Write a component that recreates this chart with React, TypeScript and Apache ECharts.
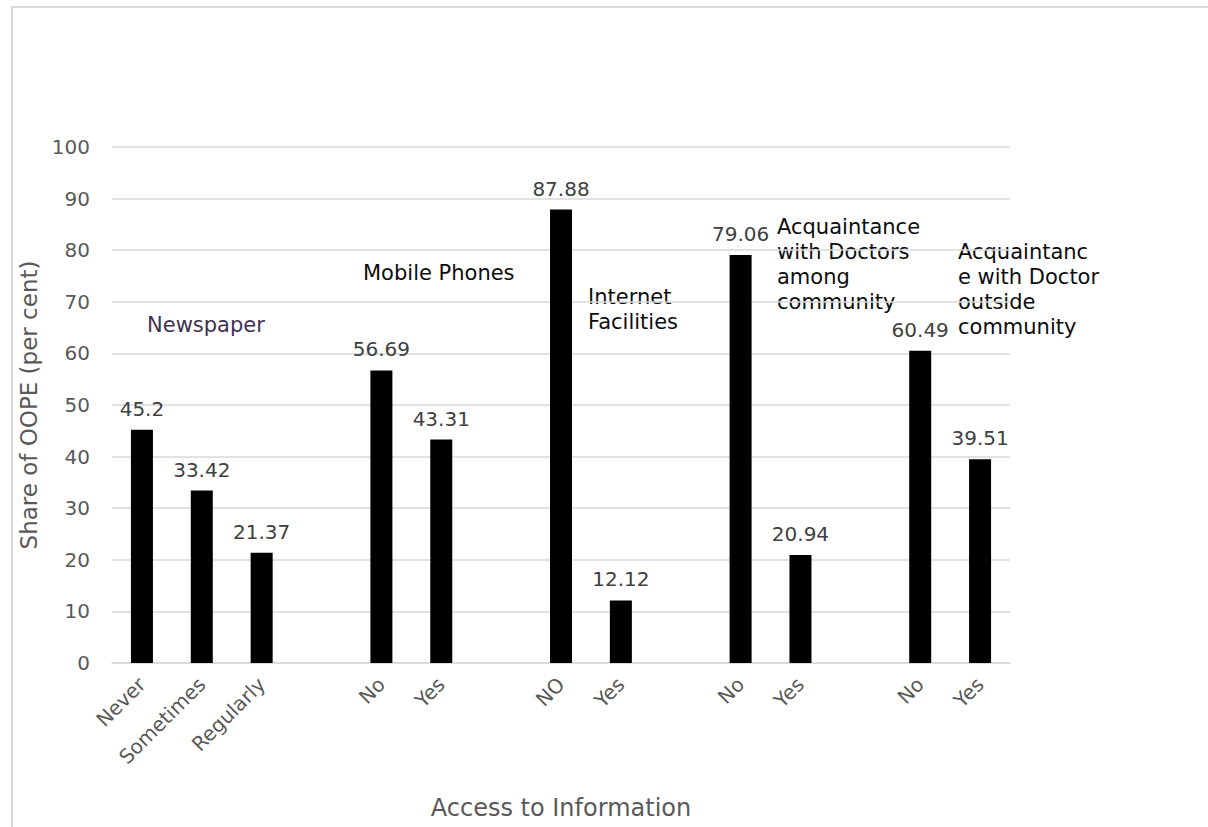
import React, { useEffect, useRef } from "react";
import * as echarts from "echarts";

const categories = ["Never", "Sometimes", "Regularly", "", "No", "Yes", "", "NO", "Yes", "", "No", "Yes", "", "No", "Yes"];
const shareValues = [45.2, 33.42, 21.37, null, 56.69, 43.31, null, 87.88, 12.12, null, 79.06, 20.94, null, 60.49, 39.51];
const yAxisTitle = "Share of OOPE (per cent)";
const xAxisTitle = "Access to Information";
const groupNotes = [
  "Newspaper",
  "Mobile Phones",
  "Internet\nFacilities",
  "Acquaintance\nwith Doctors\namong\ncommunity",
  "Acquaintanc\ne with Doctor\noutside\ncommunity",
];

const FONT = "'DejaVu Sans', sans-serif";

export default function App() {
  const ref = useRef<HTMLDivElement>(null);
  useEffect(() => {
    document.body.style.margin = "0";
    const chart = echarts.init(ref.current!, null, { renderer: "svg" });
    const noteStyle = (text: string, color: string) => ({
      text,
      fill: color,
      font: `21px ${FONT}`,
      lineHeight: 25,
    });
    chart.setOption({
      animation: false,
      backgroundColor: "#ffffff",
      grid: { left: 112, right: 198, top: 147, bottom: 164, containLabel: false },
      xAxis: {
        type: "category",
        data: categories,
        axisTick: { show: false },
        axisLine: { lineStyle: { color: "#d9d9d9", width: 1.5 } },
        axisLabel: {
          interval: 0,
          rotate: 45,
          margin: 18,
          color: "#595959",
          fontFamily: FONT,
          fontSize: 20,
        },
        name: xAxisTitle,
        nameLocation: "middle",
        nameGap: 133,
        nameTextStyle: { color: "#595959", fontFamily: FONT, fontSize: 24 },
      },
      yAxis: {
        type: "value",
        min: 0,
        max: 100,
        interval: 10,
        axisLine: { show: false },
        axisTick: { show: false },
        splitLine: { lineStyle: { color: "#d9d9d9", width: 1.5 } },
        axisLabel: { color: "#595959", fontFamily: FONT, fontSize: 20, margin: 22 },
        name: yAxisTitle,
        nameLocation: "middle",
        nameRotate: 90,
        nameGap: 64,
        nameTextStyle: { color: "#595959", fontFamily: FONT, fontSize: 23 },
      },
      series: [
        {
          type: "bar",
          data: shareValues,
          barWidth: 22,
          itemStyle: { color: "#000000" },
          label: {
            show: true,
            position: "top",
            distance: 11,
            color: "#404040",
            fontFamily: FONT,
            fontSize: 20,
            lineHeight: 20,
          },
        },
      ],
      graphic: [
        {
          type: "rect",
          shape: { x: 12, y: 7, width: 1400, height: 1000 },
          style: { fill: "none", stroke: "#d9d9d9", lineWidth: 2 },
          silent: true,
        },
        { type: "text", x: 147, y: 325, style: { ...noteStyle(groupNotes[0], "#403152"), verticalAlign: "middle" } },
        { type: "text", x: 363, y: 273, style: { ...noteStyle(groupNotes[1], "#0d0d0d"), verticalAlign: "middle" } },
        { type: "text", x: 588, y: 284, style: { ...noteStyle(groupNotes[2], "#0d0d0d"), verticalAlign: "top" } },
        { type: "text", x: 777, y: 214, style: { ...noteStyle(groupNotes[3], "#0d0d0d"), verticalAlign: "top" } },
        { type: "text", x: 958, y: 239, style: { ...noteStyle(groupNotes[4], "#0d0d0d"), verticalAlign: "top" } },
      ],
    });
    return () => chart.dispose();
  }, []);
  return <div ref={ref} style={{ width: 1208, height: 827 }} />;
}
